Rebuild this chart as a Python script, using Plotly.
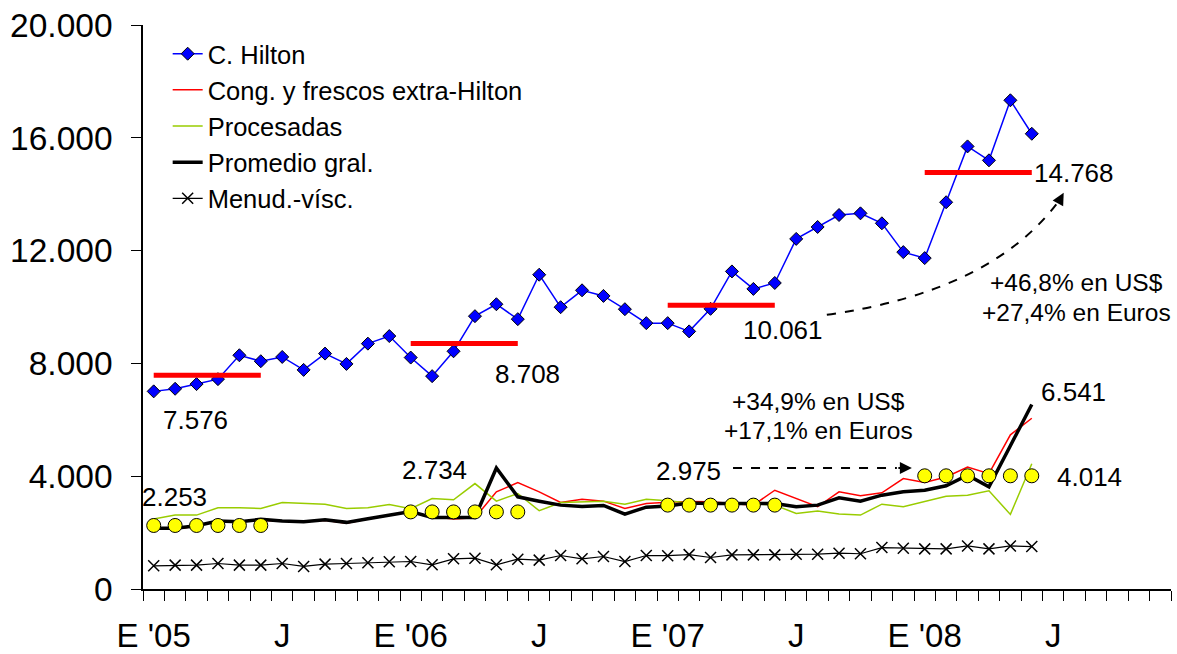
import plotly.graph_objects as go

# meses: E '05 .. D '08 (48 posiciones en el eje)
n_meses = 48
x_labels = ["E '05", "J", "E '06", "J", "E '07", "J", "E '08", "J"]
x_label_pos = [0, 6, 12, 18, 24, 30, 36, 42]

y_ticks = [0, 4000, 8000, 12000, 16000, 20000]
y_ticktext = ["0", "4.000", "8.000", "12.000", "16.000", "20.000"]

# series mensuales (US$/t), E '05 a J '08
hilton = [7008, 7100, 7266, 7442, 8289, 8077, 8229, 7770, 8348, 7982, 8701, 8970,
          8207, 7548, 8430, 9675, 10098, 9569, 11145, 9993, 10592, 10393, 9922, 9428,
          9428, 9135, 9935, 11262, 10641, 10852, 12415, 12838, 13262, 13321, 12968, 11946,
          11734, 13715, 15695, 15201, 17330, 16143]
cong = [2120, 2120, 2230, 2400, 2380, 2440, 2400, 2390, 2440, 2330, 2480, 2600,
        2740, 2563, 2480, 2527, 3445, 3774, 3445, 3068, 3186, 3115, 2857, 3033,
        3080, 3100, 3092, 3033, 2974, 3503, 3210, 2916, 3445, 3304, 3410, 3915,
        3774, 3974, 4327, 4091, 5467, 6056]
procesadas = [2480, 2621, 2621, 2880, 2880, 2857, 3068, 3033, 3009, 2857, 2880, 2998,
              2850, 3210, 3163, 3739, 3115, 3386, 2775, 3068, 3092, 3115, 3009, 3186,
              3130, 3050, 3033, 3033, 3033, 2974, 2680, 2763, 2656, 2621, 3009, 2916,
              3092, 3292, 3327, 3480, 2645, 4444]
promedio = [2151, 2151, 2246, 2410, 2387, 2469, 2410, 2387, 2457, 2363, 2492, 2621,
            2750, 2539, 2539, 2539, 4292, 3269, 3115, 2974, 2927, 2963, 2656, 2903,
            2940, 3050, 3033, 3033, 3033, 3033, 2916, 2974, 3233, 3115, 3327, 3445,
            3500, 3660, 4033, 3621, 5080, 6541]
menud = [823, 846, 846, 905, 846, 846, 905, 800, 882, 905, 928, 964,
         975, 858, 1070, 1093, 858, 1058, 1023, 1188, 1070, 1152, 975, 1188,
         1180, 1220, 1117, 1211, 1211, 1211, 1234, 1234, 1270, 1250, 1470, 1446,
         1422, 1422, 1528, 1422, 1528, 1505]

# promedios del primer semestre de cada año
sem_start = [0, 12, 24, 36]
sem_len = 6
hilton_sem = [7576, 8708, 10061, 14768]
prom_sem = [2253, 2734, 2975, 4014]

x = list(range(len(hilton)))
FONT = "Arial, Liberation Sans, sans-serif"


def fmt(v):
    return f"{v:,}".replace(",", ".")


fig = go.Figure()

fig.add_trace(go.Scatter(x=x, y=hilton, name="C. Hilton", mode="lines+markers",
                         line=dict(color="#0000FF", width=1.5),
                         marker=dict(symbol="diamond", size=10, color="#0000FF",
                                     line=dict(color="black", width=1))))
fig.add_trace(go.Scatter(x=x, y=cong, name="Cong. y frescos extra-Hilton", mode="lines",
                         line=dict(color="#FF0000", width=1.5)))
fig.add_trace(go.Scatter(x=x, y=procesadas, name="Procesadas", mode="lines",
                         line=dict(color="#99CC00", width=1.5)))
fig.add_trace(go.Scatter(x=x, y=promedio, name="Promedio gral.", mode="lines",
                         line=dict(color="black", width=3.5)))
fig.add_trace(go.Scatter(x=x, y=menud, name="Menud.-vísc.", mode="lines+markers",
                         line=dict(color="black", width=1.2),
                         marker=dict(symbol="x-thin", size=11,
                                     line=dict(color="black", width=1.5))))

# barras rojas: promedio semestral Hilton
bx, by = [], []
for s, v in zip(sem_start, hilton_sem):
    bx += [s, s + sem_len - 1, None]
    by += [v, v, None]
fig.add_trace(go.Scatter(x=bx, y=by, mode="lines", showlegend=False, hoverinfo="skip",
                         line=dict(color="#FF0000", width=5)))

# circulos amarillos: promedio semestral general
cx, cy = [], []
for s, v in zip(sem_start, prom_sem):
    for k in range(sem_len):
        cx.append(s + k)
        cy.append(v)
fig.add_trace(go.Scatter(x=cx, y=cy, mode="markers", showlegend=False, hoverinfo="skip",
                         marker=dict(symbol="circle", size=14, color="#FFFF00",
                                     line=dict(color="black", width=1))))

# etiquetas de valores
labels = [
    (fmt(hilton_sem[0]), 1.93, 5996, 26),
    (fmt(prom_sem[0]), 0.99, 3264, 26),
    (fmt(hilton_sem[1]), 17.47, 7628, 26),
    (fmt(prom_sem[1]), 13.09, 4222, 26),
    (fmt(hilton_sem[2]), 29.38, 9189, 26),
    (fmt(prom_sem[2]), 24.95, 4187, 26),
    (fmt(hilton_sem[3]), 42.99, 14760, 26),
    (fmt(prom_sem[3]), 43.71, 3974, 26),
    (fmt(promedio[-1]), 42.96, 6990, 26),
    ("+34,9% en US$", 31.06, 6635, 24.5),
    ("+17,1% en Euros", 31.06, 5606, 24.5),
    ("+46,8% en US$", 43.07, 10857, 24.5),
    ("+27,4% en Euros", 43.07, 9792, 24.5),
]
for txt, ax_, ay_, fs in labels:
    fig.add_annotation(x=ax_, y=ay_, text=txt, showarrow=False,
                       xanchor="center", yanchor="middle",
                       font=dict(family=FONT, size=fs, color="black"))

# flecha recta punteada (2.975 -> 4.014)
fig.add_shape(type="line", x0=27.05, x1=34.7, y0=4293, y1=4293,
              line=dict(color="black", width=2, dash="dash"))
fig.add_annotation(x=35.4, y=4293, ax=34.7, ay=4293, axref="x", ayref="y",
                   text="", showarrow=True, arrowhead=2, arrowsize=1.2,
                   arrowwidth=2, arrowcolor="black")

# flecha curva punteada (10.061 -> 14.768)
fig.add_shape(type="path", path="M 31.43,9722 Q 39.19,10558 42.3,13800",
              line=dict(color="black", width=2, dash="dash"))
fig.add_annotation(x=42.49, y=14050, ax=42.2, ay=13650, axref="x", ayref="y",
                   text="", showarrow=True, arrowhead=2, arrowsize=1.2,
                   arrowwidth=2, arrowcolor="black")

fig.update_layout(
    width=1177, height=654,
    margin=dict(l=143, r=6, t=25, b=65),
    plot_bgcolor="white", paper_bgcolor="white",
    font=dict(family=FONT, color="black"),
    showlegend=True,
    legend=dict(x=0.024, y=0.99, xanchor="left", yanchor="top",
                bgcolor="rgba(0,0,0,0)", font=dict(family=FONT, size=25.5),
                tracegroupgap=0),
    xaxis=dict(range=[-0.5, n_meses - 0.5], showgrid=False, zeroline=False,
               automargin=False,
               showline=True, linecolor="black", linewidth=1.5,
               tickvals=x_label_pos, ticktext=x_labels, ticks="",
               ticklabelstandoff=17,
               tickfont=dict(family=FONT, size=33, color="black"),
               minor=dict(tickvals=[i - 0.5 for i in range(n_meses + 1)],
                          ticks="outside", ticklen=10, tickcolor="black",
                          tickwidth=1, showgrid=False)),
    yaxis=dict(range=[0, 20000], showgrid=False, zeroline=False,
               automargin=False,
               showline=True, linecolor="black", linewidth=1.5,
               tickvals=y_ticks, ticktext=y_ticktext, ticks="outside",
               ticklen=10, tickcolor="black", ticklabelstandoff=12,
               tickfont=dict(family=FONT, size=33.5, color="black")),
)

# sin margen del body, para que la figura ocupe exactamente la ventana
fig.write_html("out.html", config={"displayModeBar": False},
               post_script="document.body.style.margin='0';document.body.style.overflow='hidden';")
